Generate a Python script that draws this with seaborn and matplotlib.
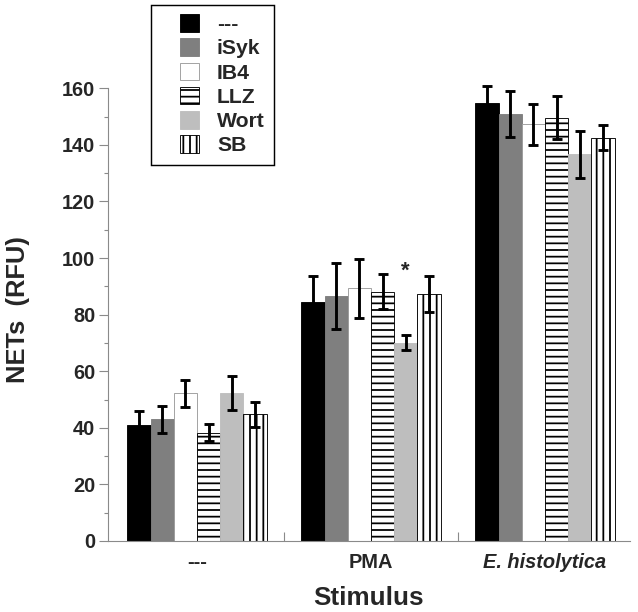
import matplotlib
matplotlib.use("Agg")
import matplotlib.pyplot as plt
from matplotlib.patches import Patch, Rectangle
from matplotlib.container import BarContainer
import seaborn as sns
import pandas as pd
import numpy as np

stimuli = ['---', 'PMA', 'E. histolytica']
treatments = ['---', 'iSyk', 'IB4', 'LLZ', 'Wort', 'SB']
mean_none = [41.0, 43.0, 52.2, 38.3, 52.4, 44.8]
mean_pma = [84.3, 86.6, 89.3, 88.1, 70.1, 87.2]
mean_eh = [154.9, 150.9, 147.3, 149.6, 136.6, 142.6]
err_none = [5.0, 4.7, 4.7, 3.1, 6.0, 4.4]
err_pma = [9.3, 11.6, 10.5, 6.2, 2.6, 6.4]
err_eh = [6.0, 8.1, 7.2, 7.5, 8.4, 4.3]
yticks = [0, 20, 40, 60, 80, 100, 120, 140, 160]

fills = ['#000000', '#7f7f7f', '#ffffff', '#ffffff', '#bebebe', '#ffffff']
edges = ['#000000', '#7f7f7f', '#9a9a9a', '#000000', '#bebebe', '#000000']
hatches = ['', '', '', '--', '', '||']

rows = []
for s, means, errs in zip(stimuli, [mean_none, mean_pma, mean_eh], [err_none, err_pma, err_eh]):
    for t, m, e in zip(treatments, means, errs):
        rows.append({'stimulus': s, 'treatment': t, 'value': m, 'err': e})
df = pd.DataFrame(rows)

sns.set_style('white')
plt.rcParams['font.family'] = ['Liberation Sans', 'DejaVu Sans']
plt.rcParams['font.weight'] = 'bold'
plt.rcParams['hatch.linewidth'] = 1.6

W, H = 638, 612
DPI = 80
fig = plt.figure(figsize=(W / DPI, H / DPI), dpi=DPI)
ax = fig.add_axes([108 / W, 71 / H, 522 / W, 498 / H])

sns.barplot(data=df, x='stimulus', y='value', hue='treatment', order=stimuli,
            hue_order=treatments, palette=dict(zip(treatments, fills)),
            width=0.8, errorbar=None, ax=ax, legend=False, saturation=1)

bar_conts = [c for c in ax.containers if isinstance(c, BarContainer)]
centers = []
for i, cont in enumerate(bar_conts):
    sub = df[df['treatment'] == treatments[i]].set_index('stimulus').loc[stimuli]
    xs = []
    for bar in cont:
        bar.set_facecolor(fills[i])
        bar.set_edgecolor(edges[i])
        bar.set_linewidth(0.8)
        if hatches[i]:
            bar.set_hatch(hatches[i])
        xs.append(bar.get_x() + bar.get_width() / 2)
    centers.append(xs)
    ax.errorbar(xs, sub['value'].values, yerr=sub['err'].values, fmt='none',
                ecolor='black', elinewidth=2.6, capsize=4.5, capthick=2.6,
                zorder=5, clip_on=False)

ax.set_xlim(-0.511, 2.489)
ax.set_ylim(0, 176)
ax.set_yticks(yticks)
ax.set_yticks(np.arange(10, 160, 20), minor=True)
ax.spines['top'].set_visible(False)
ax.spines['right'].set_visible(False)
ax.spines['left'].set_bounds(0, 160)
for sp in ['left', 'bottom']:
    ax.spines[sp].set_color('#8a8a8a')
    ax.spines[sp].set_linewidth(1.0)

ax.tick_params(axis='y', which='major', direction='out', length=8, width=1,
               color='#8a8a8a', labelsize=18, pad=3.5, left=True)
ax.tick_params(axis='y', which='minor', direction='out', length=3.5, width=1,
               color='#8a8a8a', left=True)
ax.set_xticks([0, 1, 2])
ax.set_xticklabels(stimuli)
ax.set_xticks([0.5, 1.5], minor=True)
ax.tick_params(axis='x', which='major', length=0, labelsize=18, pad=11)
ax.tick_params(axis='x', which='minor', direction='in', length=8, width=1,
               color='#8a8a8a', bottom=True)
ax.get_xticklabels()[2].set_style('italic')
for lab in ax.get_xticklabels() + ax.get_yticklabels():
    lab.set_fontweight('bold')

ax.set_xlabel('Stimulus', fontsize=23.5, fontweight='bold', labelpad=12)
ax.set_ylabel('NETs  (RFU)', fontsize=23, fontweight='bold', va='center')
ax.yaxis.set_label_coords(-0.172, 0.464)

ax.text(centers[4][1], 95.5, '*', ha='center', va='center', fontsize=20, fontweight='bold')

# legend frame
fig.patches.append(Rectangle((151 / W, 1 - 165 / H), 123 / W, 160 / H,
                             transform=fig.transFigure, facecolor='white',
                             edgecolor='black', linewidth=1.3, zorder=3))
handles = [Patch(facecolor=fills[i], edgecolor=edges[i], hatch=hatches[i], linewidth=0.8)
           for i in range(len(treatments))]
leg = fig.legend(handles, treatments, loc='upper left',
                 bbox_to_anchor=(180 / W, 1 - 14 / H), borderaxespad=0,
                 fontsize=19, handlelength=0.9, handleheight=0.9,
                 labelspacing=0.2, handletextpad=0.85, borderpad=0.0,
                 frameon=False)
leg.set_zorder(4)
for t in leg.get_texts():
    t.set_fontweight('bold')

fig.savefig('out.png', dpi=DPI)
